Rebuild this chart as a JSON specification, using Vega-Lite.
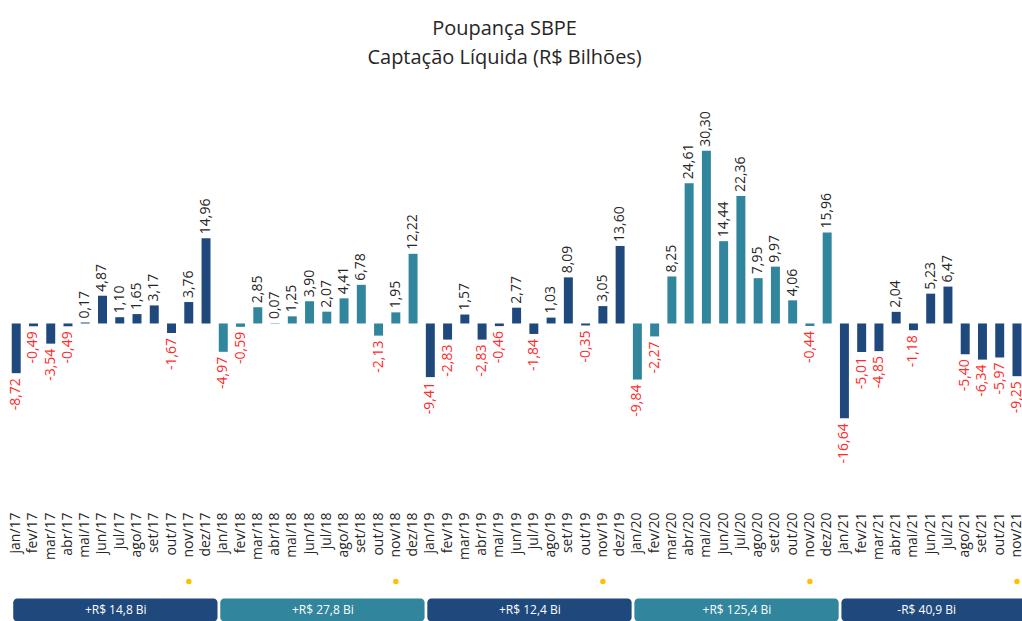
{
  "$schema": "https://vega.github.io/schema/vega-lite/v6.json",
  "autosize": {"type": "pad"},
  "padding": {"left": 7.6, "top": 19, "right": 0, "bottom": 0},
  "background": "white",
  "title": {
    "text": ["Poupança SBPE", "Captação Líquida (R$ Bilhões)"],
    "font": "Open Sans", "fontSize": 20, "fontWeight": "normal", "color": "#262626",
    "lineHeight": 29, "anchor": "middle", "frame": "group", "dx": -12, "offset": 43
  },
  "spacing": 67,
  "bounds": "flush",
  "resolve": {"scale": {"x": "shared", "y": "independent", "color": "shared"}},
  "vconcat": [
    {
      "width": 1018,
      "height": 379,
      "data": {"values": [
        {"mes": "2017-01-01", "valor": -8.72}, {"mes": "2017-02-01", "valor": -0.49}, {"mes": "2017-03-01", "valor": -3.54},
        {"mes": "2017-04-01", "valor": -0.49}, {"mes": "2017-05-01", "valor": 0.17}, {"mes": "2017-06-01", "valor": 4.87},
        {"mes": "2017-07-01", "valor": 1.10}, {"mes": "2017-08-01", "valor": 1.65}, {"mes": "2017-09-01", "valor": 3.17},
        {"mes": "2017-10-01", "valor": -1.67}, {"mes": "2017-11-01", "valor": 3.76}, {"mes": "2017-12-01", "valor": 14.96},
        {"mes": "2018-01-01", "valor": -4.97}, {"mes": "2018-02-01", "valor": -0.59}, {"mes": "2018-03-01", "valor": 2.85},
        {"mes": "2018-04-01", "valor": 0.07}, {"mes": "2018-05-01", "valor": 1.25}, {"mes": "2018-06-01", "valor": 3.90},
        {"mes": "2018-07-01", "valor": 2.07}, {"mes": "2018-08-01", "valor": 4.41}, {"mes": "2018-09-01", "valor": 6.78},
        {"mes": "2018-10-01", "valor": -2.13}, {"mes": "2018-11-01", "valor": 1.95}, {"mes": "2018-12-01", "valor": 12.22},
        {"mes": "2019-01-01", "valor": -9.41}, {"mes": "2019-02-01", "valor": -2.83}, {"mes": "2019-03-01", "valor": 1.57},
        {"mes": "2019-04-01", "valor": -2.83}, {"mes": "2019-05-01", "valor": -0.46}, {"mes": "2019-06-01", "valor": 2.77},
        {"mes": "2019-07-01", "valor": -1.84}, {"mes": "2019-08-01", "valor": 1.03}, {"mes": "2019-09-01", "valor": 8.09},
        {"mes": "2019-10-01", "valor": -0.35}, {"mes": "2019-11-01", "valor": 3.05}, {"mes": "2019-12-01", "valor": 13.60},
        {"mes": "2020-01-01", "valor": -9.84}, {"mes": "2020-02-01", "valor": -2.27}, {"mes": "2020-03-01", "valor": 8.25},
        {"mes": "2020-04-01", "valor": 24.61}, {"mes": "2020-05-01", "valor": 30.30}, {"mes": "2020-06-01", "valor": 14.44},
        {"mes": "2020-07-01", "valor": 22.36}, {"mes": "2020-08-01", "valor": 7.95}, {"mes": "2020-09-01", "valor": 9.97},
        {"mes": "2020-10-01", "valor": 4.06}, {"mes": "2020-11-01", "valor": -0.44}, {"mes": "2020-12-01", "valor": 15.96},
        {"mes": "2021-01-01", "valor": -16.64}, {"mes": "2021-02-01", "valor": -5.01}, {"mes": "2021-03-01", "valor": -4.85},
        {"mes": "2021-04-01", "valor": 2.04}, {"mes": "2021-05-01", "valor": -1.18}, {"mes": "2021-06-01", "valor": 5.23},
        {"mes": "2021-07-01", "valor": 6.47}, {"mes": "2021-08-01", "valor": -5.40}, {"mes": "2021-09-01", "valor": -6.34},
        {"mes": "2021-10-01", "valor": -5.97}, {"mes": "2021-11-01", "valor": -9.25}
      ]},
      "encoding": {
        "x": {
          "field": "mes", "timeUnit": "utcyearmonth", "type": "ordinal",
          "scale": {"paddingInner": 0.48, "paddingOuter": 0.24},
          "axis": {
            "title": null, "domain": false, "ticks": false, "tickSize": 0, "labelPadding": 9,
            "labelAngle": -90, "labelAlign": "right", "labelBaseline": "middle",
            "labelFont": "Open Sans", "labelFontSize": 14, "labelColor": "#262626",
            "labelOverlap": false, "labelBound": false,
            "labelExpr": "['jan','fev','mar','abr','mai','jun','jul','ago','set','out','nov','dez'][utcmonth(datum.value)] + '/' + utcFormat(datum.value, '%y')"
          }
        },
        "y": {
          "field": "valor", "type": "quantitative",
          "scale": {"domain": [-31.5, 35], "nice": false, "zero": false},
          "axis": null
        }
      },
      "layer": [
        {
          "mark": {"type": "bar"},
          "encoding": {
            "color": {
              "field": "mes", "timeUnit": "utcyear", "type": "ordinal",
              "scale": {"range": ["#1f497d", "#31859c", "#1f497d", "#31859c", "#1f497d"]},
              "legend": null
            }
          }
        },
        {
          "transform": [{"filter": "datum.valor >= 0"}],
          "mark": {"type": "text", "angle": 270, "align": "left", "baseline": "middle", "dx": 4, "font": "Open Sans", "fontSize": 14, "color": "#262626"},
          "encoding": {"text": {"field": "valor", "type": "quantitative", "format": ".2f"}}
        },
        {
          "transform": [{"filter": "datum.valor < 0"}],
          "mark": {"type": "text", "angle": 270, "align": "right", "baseline": "middle", "dx": -5, "font": "Open Sans", "fontSize": 14, "color": "#ff2a2a"},
          "encoding": {"text": {"field": "valor", "type": "quantitative", "format": ".2f"}}
        }
      ]
    },
    {
      "width": 1018,
      "height": 51.5,
      "layer": [
        {
          "data": {"values": [
            {"mes": "2017-11-01", "linha": "ponto"}, {"mes": "2018-11-01", "linha": "ponto"},
            {"mes": "2019-11-01", "linha": "ponto"}, {"mes": "2020-11-01", "linha": "ponto"},
            {"mes": "2021-11-01", "linha": "ponto"}
          ]},
          "mark": {"type": "circle", "size": 30, "color": "#ffc000", "opacity": 1},
          "encoding": {
            "x": {"field": "mes", "timeUnit": "utcyearmonth", "type": "ordinal", "axis": null},
            "y": {"field": "linha", "type": "nominal", "scale": {"domain": ["ponto", "caixa"], "paddingInner": 0.193, "paddingOuter": 0}, "axis": null}
          }
        },
        {
          "data": {"values": [
            {"inicio": "2017-01-01", "meio": "2017-07-01", "fim": "2017-12-01", "rotulo": "+R$ 14,8 Bi", "linha": "caixa"},
            {"inicio": "2018-01-01", "meio": "2018-07-01", "fim": "2018-12-01", "rotulo": "+R$ 27,8 Bi", "linha": "caixa"},
            {"inicio": "2019-01-01", "meio": "2019-07-01", "fim": "2019-12-01", "rotulo": "+R$ 12,4 Bi", "linha": "caixa"},
            {"inicio": "2020-01-01", "meio": "2020-07-01", "fim": "2020-12-01", "rotulo": "+R$ 125,4 Bi", "linha": "caixa"},
            {"inicio": "2021-01-01", "meio": "2021-06-01", "fim": "2021-11-01", "rotulo": "-R$ 40,9 Bi", "linha": "caixa"}
          ]},
          "encoding": {
            "y": {"field": "linha", "type": "nominal", "axis": null}
          },
          "layer": [
            {
              "mark": {"type": "rect", "cornerRadius": 4, "xOffset": -3, "x2Offset": 11.5},
              "encoding": {
                "x": {"field": "inicio", "timeUnit": "utcyearmonth", "type": "ordinal", "axis": null},
                "x2": {"field": "fim", "timeUnit": "utcyearmonth"},
                "color": {"field": "inicio", "timeUnit": "utcyear", "type": "ordinal", "legend": null}
              }
            },
            {
              "mark": {"type": "text", "font": "Open Sans", "fontSize": 12, "color": "white", "dx": -4, "baseline": "middle", "align": "center"},
              "encoding": {
                "x": {"field": "meio", "timeUnit": "utcyearmonth", "type": "ordinal", "axis": null},
                "text": {"field": "rotulo", "type": "nominal"}
              }
            }
          ]
        }
      ]
    }
  ],
  "config": {
    "view": {"stroke": null},
    "font": "Open Sans",
    "locale": {"number": {"decimal": ",", "thousands": ".", "grouping": [3], "currency": ["R$", ""], "minus": "-"}}
  }
}
